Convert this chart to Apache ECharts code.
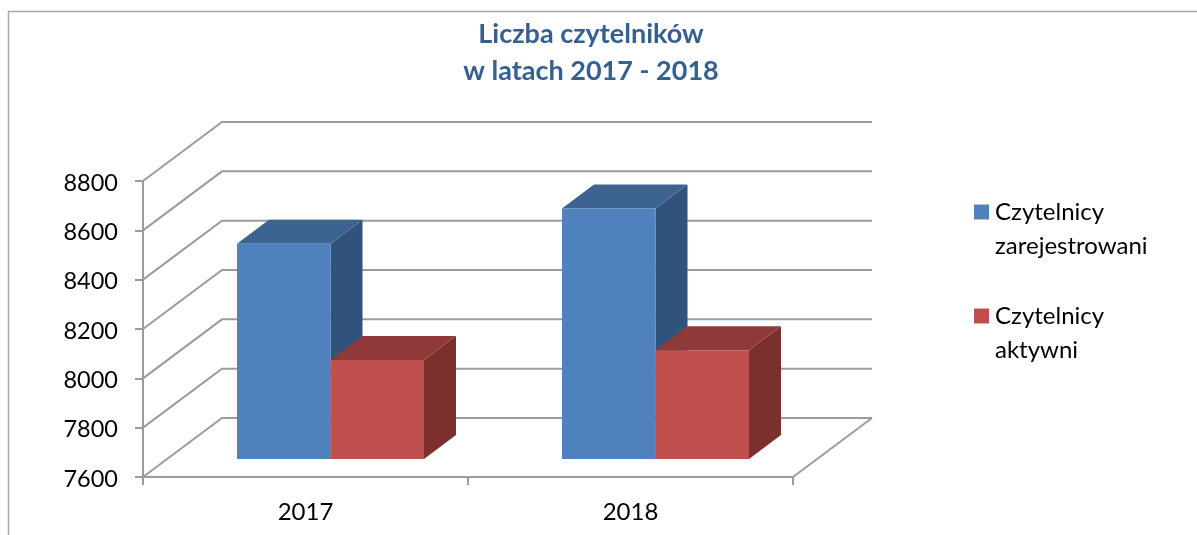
<!DOCTYPE html>
<html>
<head>
    <meta charset="UTF-8">
    <title>Liczba czytelników</title>
    <style>
        html, body { margin: 0; padding: 0; background: #fff; }
        #main { width: 1197px; height: 535px; }
    </style>
</head>
<body>
<div id="main"></div>
<script src="https://cdn.jsdelivr.net/npm/echarts@6/dist/echarts.min.js"></script>
<script>
    var years = ['2017', '2018'];
    var seriesNames = ['Czytelnicy\nzarejestrowani', 'Czytelnicy\naktywni'];
    var registered = [8473, 8616];
    var active = [8001, 8041];
    var yTicks = [7600, 7800, 8000, 8200, 8400, 8600, 8800];

    var FONT = 'Lato';
    var LINE = '#9c9c9c';
    // wall depth and bar placement in the fake 3d
    var WALL = [79, -59];
    var BAR_SHIFT = [25, -18];
    var BAR_DEPTH = [32, -24];
    var BAR_RATIO = 0.2877;

    function wallItem(params, api) {
        var p = api.coord([0, api.value(0)]);
        var x0 = params.coordSys.x;
        var x1 = x0 + params.coordSys.width;
        var bx = x0 + WALL[0], by = p[1] + WALL[1];
        var children = [{
            type: 'polyline',
            shape: { points: [[x0, p[1]], [bx, by], [x1 + WALL[0], by]] },
            style: { fill: null, stroke: LINE, lineWidth: 2 }
        }];
        // floor edge on the right
        if (api.value(0) === yTicks[0]) {
            children.push({
                type: 'line',
                shape: { x1: x1, y1: p[1], x2: x1 + WALL[0], y2: by },
                style: { stroke: LINE, lineWidth: 2 }
            });
        }
        return { type: 'group', children: children };
    }

    function barRender(order, front, top, side) {
        return function (params, api) {
            var idx = api.value(0);
            var t = api.coord([idx, api.value(1)]);
            var b = api.coord([idx, yTicks[0]]);
            var w = api.size([1, 0])[0] * BAR_RATIO;
            var x0 = t[0] + BAR_SHIFT[0] + (order - 1) * w;
            var x1 = x0 + w;
            var y0 = t[1] + BAR_SHIFT[1];
            var y1 = b[1] + BAR_SHIFT[1];
            var dx = BAR_DEPTH[0], dy = BAR_DEPTH[1];
            return {
                type: 'group',
                children: [
                    { type: 'polygon', shape: { points: [[x1, y0], [x1 + dx, y0 + dy], [x1 + dx, y1 + dy], [x1, y1]] }, style: { fill: side } },
                    { type: 'polygon', shape: { points: [[x0, y0], [x0 + dx, y0 + dy], [x1 + dx, y0 + dy], [x1, y0]] }, style: { fill: top } },
                    { type: 'rect', shape: { x: x0, y: y0, width: w, height: y1 - y0 }, style: { fill: front } }
                ]
            };
        };
    }

    function toData(values) {
        return values.map(function (v, i) { return [i, v]; });
    }

    var chart = echarts.init(document.getElementById('main'));
    chart.setOption({
        animation: false,
        backgroundColor: '#fff',
        title: {
            text: 'Liczba czytelników\nw latach 2017 - 2018',
            left: 591,
            top: 16,
            padding: 0,
            textAlign: 'center',
            textStyle: { fontFamily: FONT, fontWeight: 'bold', fontSize: 27, lineHeight: 37, color: '#376092' }
        },
        legend: {
            orient: 'vertical',
            left: 974,
            top: 161,
            padding: 0,
            itemWidth: 15,
            itemHeight: 15,
            itemGap: 2,
            icon: 'rect',
            data: seriesNames,
            selectedMode: false,
            // blank first line keeps the swatch level with the first text line
            formatter: function (name) { return '\n' + name; },
            textStyle: { fontFamily: FONT, fontSize: 24, lineHeight: 34, color: '#000', padding: [0, 0, 0, 1] }
        },
        grid: { left: 143, top: 181, width: 650, height: 296 },
        xAxis: {
            type: 'category',
            data: years,
            axisLine: { lineStyle: { color: LINE, width: 2 } },
            axisTick: { show: true, length: 8, lineStyle: { color: LINE, width: 2 } },
            axisLabel: { fontFamily: FONT, fontSize: 24, color: '#000', margin: 23 }
        },
        yAxis: {
            type: 'value',
            min: yTicks[0],
            max: yTicks[yTicks.length - 1],
            interval: 200,
            axisLine: { show: true, lineStyle: { color: LINE, width: 2 } },
            axisTick: { show: true, length: 8, lineStyle: { color: LINE, width: 2 } },
            axisLabel: {
                fontFamily: FONT, fontSize: 23.5, color: '#000', margin: 25,
                verticalAlign: 'bottom', padding: [0, 0, -14, 0],
                formatter: function (v) { return String(v); }
            },
            splitLine: { show: false }
        },
        graphic: [{
            type: 'polyline',
            silent: true,
            shape: { points: [[8.5, 535], [8.5, 11.5], [1197, 11.5]] },
            style: { fill: null, stroke: '#a8a8a8', lineWidth: 1.5 }
        }],
        series: [
            { type: 'custom', name: 'walls', renderItem: wallItem, data: yTicks.map(function (v) { return [v]; }), encode: { y: 0 }, silent: true, z: 1 },
            { type: 'custom', name: seriesNames[0], renderItem: barRender(0, '#4f81bd', '#3d6490', '#31527a'), data: toData(registered), encode: { x: 0, y: 1 }, itemStyle: { color: '#4f81bd' }, z: 3 },
            { type: 'custom', name: seriesNames[1], renderItem: barRender(1, '#c0504d', '#8f3a38', '#7b302e'), data: toData(active), encode: { x: 0, y: 1 }, itemStyle: { color: '#c0504d' }, z: 4 }
        ]
    });
</script>
</body>
</html>
